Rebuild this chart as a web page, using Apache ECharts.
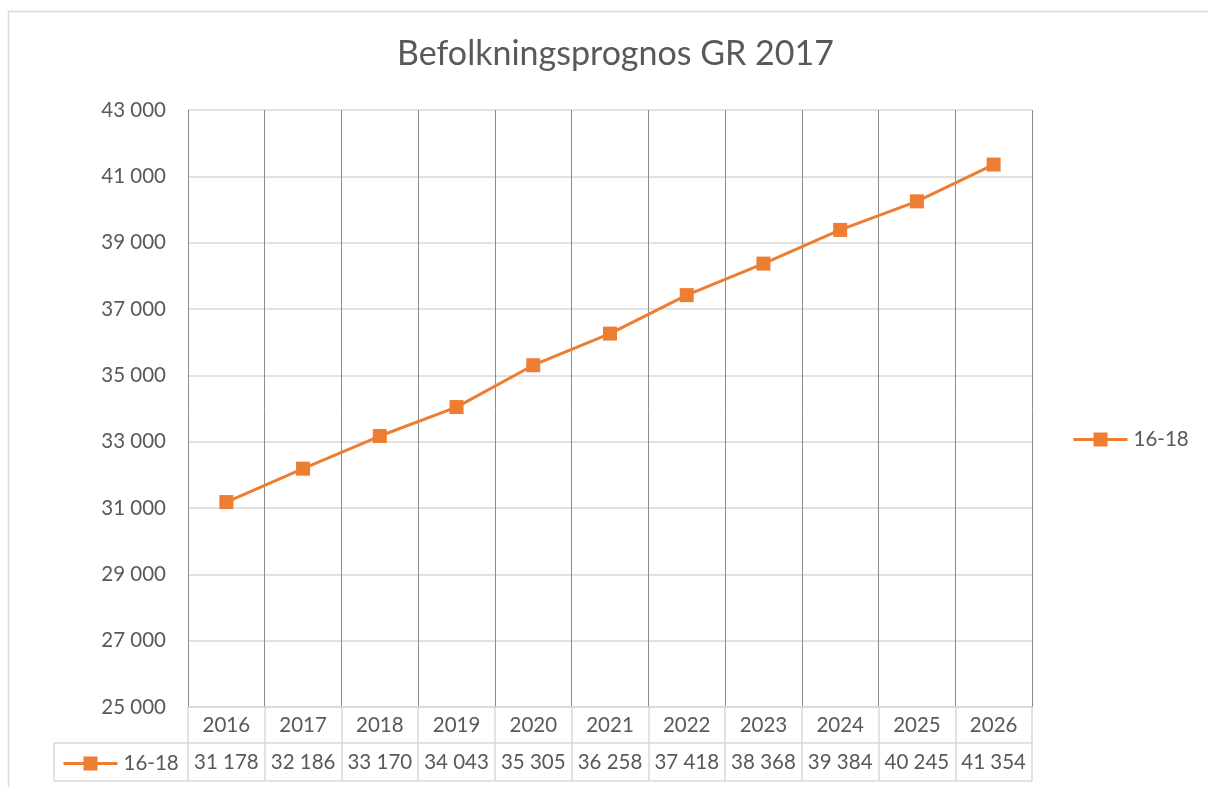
<!DOCTYPE html>
<html>
<head>
<meta charset="utf-8">
<script src="https://cdn.jsdelivr.net/npm/echarts@6/dist/echarts.min.js"></script>
<style>
html,body{margin:0;padding:0;background:#fff;}
#chart{width:1208px;height:787px;}
</style>
</head>
<body>
<div id="chart"></div>
<script>
const titleText = 'Befolkningsprognos GR 2017';
const seriesName = '16-18';
const years = ['2016','2017','2018','2019','2020','2021','2022','2023','2024','2025','2026'];
const values = [31178, 32186, 33170, 34043, 35305, 36258, 37418, 38368, 39384, 40245, 41354];
const yMin = 25000, yMax = 43000, yStep = 2000;

const FONT = 'Lato';
const TXT = '#595959';
const LIGHT = '#d9d9d9';
const DARK = '#8c8c8c';
const ORANGE = '#ED7D31';
const fmt = v => String(v).replace(/\B(?=(\d{3})+(?!\d))/g, ' ');

const G = {left: 188, right: 176, top: 110, bottom: 80};
const chart = echarts.init(document.getElementById('chart'));
chart.setOption({
  animation: false,
  textStyle: {fontFamily: FONT},
  title: {
    text: titleText, left: 397, top: 37, padding: 0,
    textStyle: {fontFamily: FONT, fontSize: 34, fontWeight: 'normal', color: TXT}
  },
  legend: [
    {
      data: [seriesName], left: 1067, top: 424, orient: 'vertical',
      itemWidth: 54, itemHeight: 17.5, itemGap: 0,
      lineStyle: {width: 3},
      textStyle: {fontFamily: FONT, fontSize: 20.5, color: TXT, padding: [0,0,0,1]}
    },
    {
      data: [seriesName], left: 57, top: 748, orient: 'vertical',
      itemWidth: 54, itemHeight: 17.5, itemGap: 0,
      lineStyle: {width: 3},
      textStyle: {fontFamily: FONT, fontSize: 20.5, color: TXT, padding: [0,0,0,1]}
    }
  ],
  grid: {left: G.left, right: G.right, top: G.top, bottom: G.bottom, containLabel: false},
  xAxis: [
    {
      type: 'category', data: years, boundaryGap: true, position: 'bottom',
      axisLine: {show: true, lineStyle: {color: LIGHT, width: 1.5}},
      axisTick: {show: true, length: 74, inside: false, lineStyle: {color: LIGHT, width: 1.5}},
      axisLabel: {fontFamily: FONT, fontSize: 20.5, color: TXT, margin: 8, interval: 0},
      splitLine: {show: true, interval: 0, lineStyle: {color: DARK, width: 1}}
    },
    {
      type: 'category', data: years, boundaryGap: true, position: 'bottom', offset: 36,
      axisLine: {show: true, lineStyle: {color: LIGHT, width: 1.5}},
      axisTick: {show: false},
      axisLabel: {fontFamily: FONT, fontSize: 20.5, color: TXT, margin: 9, interval: 0,
        formatter: (v, i) => fmt(values[i])},
      splitLine: {show: false}
    },
    {
      type: 'category', data: years, boundaryGap: true, position: 'bottom', offset: 74,
      axisLine: {show: true, lineStyle: {color: LIGHT, width: 1.5}},
      axisTick: {show: false}, axisLabel: {show: false}, splitLine: {show: false}
    }
  ],
  yAxis: {
    type: 'value', min: yMin, max: yMax, interval: yStep,
    axisLine: {show: false}, axisTick: {show: false},
    axisLabel: {fontFamily: FONT, fontSize: 20.5, color: TXT, margin: 22, formatter: v => fmt(v)},
    splitLine: {show: true, lineStyle: {color: LIGHT, width: 1.5}}
  },
  graphic: [
    {type: 'rect', silent: true, z: -10, shape: {x: 8.5, y: 11.5, width: 1400, height: 1000},
      style: {fill: 'none', stroke: LIGHT, lineWidth: 1.5}},
    {type: 'line', silent: true, shape: {x1: 54, y1: 743, x2: 188, y2: 743}, style: {stroke: LIGHT, lineWidth: 1.5}},
    {type: 'line', silent: true, shape: {x1: 54, y1: 781, x2: 188, y2: 781}, style: {stroke: LIGHT, lineWidth: 1.5}},
    {type: 'line', silent: true, shape: {x1: 54, y1: 743, x2: 54, y2: 781}, style: {stroke: LIGHT, lineWidth: 1.5}}
  ],
  series: [{
    name: seriesName, type: 'line', data: values,
    symbol: 'rect', symbolSize: 14,
    lineStyle: {color: ORANGE, width: 3},
    itemStyle: {color: ORANGE},
    z: 5
  }]
});
</script>
</body>
</html>
